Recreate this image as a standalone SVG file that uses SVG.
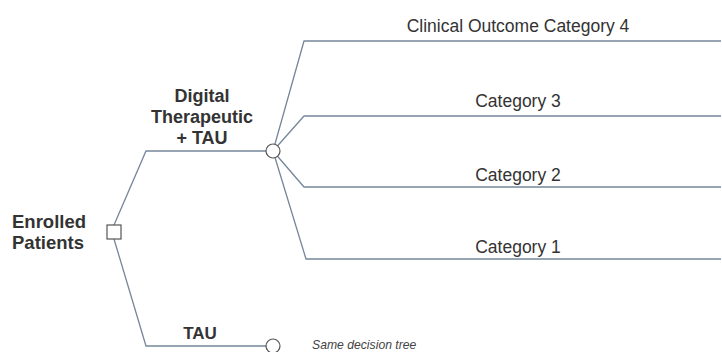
<svg xmlns="http://www.w3.org/2000/svg" width="722" height="352" viewBox="0 0 722 352">
<style>
.ln{fill:none;stroke:#76869a;stroke-width:1.3}
.nd{fill:#fff;stroke:#555;stroke-width:1.2}
.b{font-family:"Liberation Sans",Arial,sans-serif;font-weight:bold;font-size:18px;fill:#333}
.c{font-family:"Liberation Sans",Arial,sans-serif;font-size:17.5px;fill:#333;text-anchor:middle}
.i{font-family:"Liberation Sans",Arial,sans-serif;font-style:italic;font-size:12.2px;fill:#444}
</style>
<rect width="722" height="352" fill="#fff"/>
<g id="connectors">
<polyline class="ln" points="114,225 146,151 273,151"/>
<polyline class="ln" points="114,239 146,346 273,346"/>
<polyline class="ln" points="273,151 304,41 721,41"/>
<polyline class="ln" points="273,151 304,116 721,116"/>
<polyline class="ln" points="273,151 304,187 721,187"/>
<polyline class="ln" points="273,151 306,259 721,259"/>
</g>
<g id="enrolled">
<rect class="nd" x="107" y="225" width="14" height="14"/>
<text class="b" x="12" y="228" style="font-size:18.5px">Enrolled</text>
<text class="b" x="12" y="249" style="font-size:18.5px">Patients</text>
</g>
<g id="digital">
<circle class="nd" cx="273" cy="151" r="7"/>
<text class="b" x="202" y="102" text-anchor="middle">Digital</text>
<text class="b" x="202" y="123" text-anchor="middle">Therapeutic</text>
<text class="b" x="202" y="144" text-anchor="middle">+ TAU</text>
</g>
<g id="tau">
<circle class="nd" cx="273" cy="346" r="7"/>
<text class="b" x="200" y="339" text-anchor="middle" style="font-size:17px">TAU</text>
<text class="i" x="312" y="349">Same decision tree</text>
</g>
<g id="cat4"><text class="c" x="518" y="32">Clinical Outcome Category 4</text></g>
<g id="cat3"><text class="c" x="518" y="107">Category 3</text></g>
<g id="cat2"><text class="c" x="518" y="181">Category 2</text></g>
<g id="cat1"><text class="c" x="518" y="253">Category 1</text></g>
</svg>
